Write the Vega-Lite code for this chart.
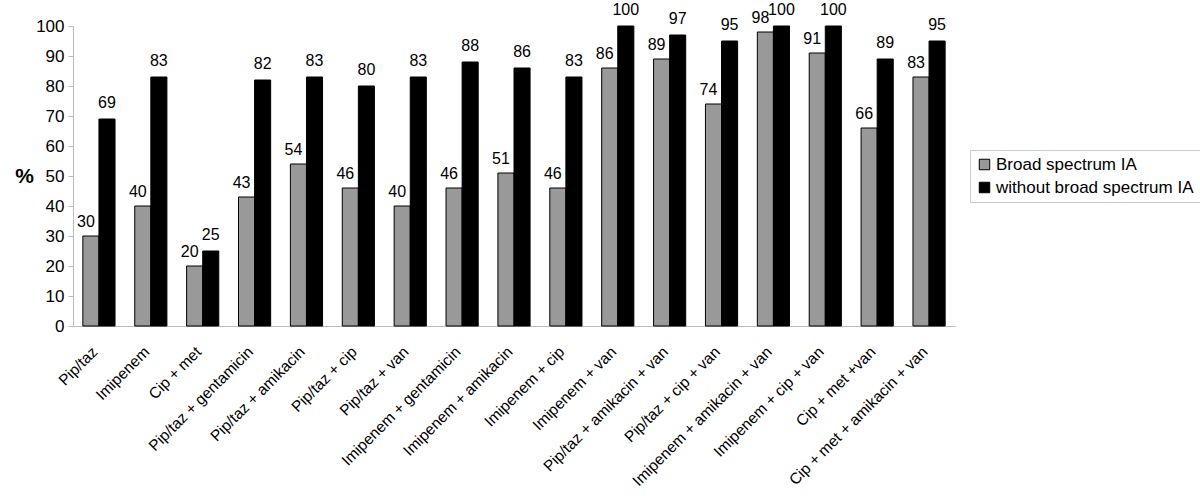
{
  "$schema": "https://vega.github.io/schema/vega-lite/v6.json",
  "autosize": "none",
  "width": 882,
  "height": 300,
  "padding": {"left": 73, "top": 26, "right": 245, "bottom": 170},
  "background": "white",
  "config": {
    "font": "Liberation Sans",
    "view": {"stroke": null}
  },
  "data": {
    "values": [
      {"cat": "Pip/taz", "series": "Broad spectrum IA", "value": 30},
      {"cat": "Pip/taz", "series": "without broad spectrum IA", "value": 69},
      {"cat": "Imipenem", "series": "Broad spectrum IA", "value": 40},
      {"cat": "Imipenem", "series": "without broad spectrum IA", "value": 83},
      {"cat": "Cip + met", "series": "Broad spectrum IA", "value": 20},
      {"cat": "Cip + met", "series": "without broad spectrum IA", "value": 25},
      {"cat": "Pip/taz + gentamicin", "series": "Broad spectrum IA", "value": 43},
      {"cat": "Pip/taz + gentamicin", "series": "without broad spectrum IA", "value": 82},
      {"cat": "Pip/taz + amikacin", "series": "Broad spectrum IA", "value": 54},
      {"cat": "Pip/taz + amikacin", "series": "without broad spectrum IA", "value": 83},
      {"cat": "Pip/taz + cip", "series": "Broad spectrum IA", "value": 46},
      {"cat": "Pip/taz + cip", "series": "without broad spectrum IA", "value": 80},
      {"cat": "Pip/taz + van", "series": "Broad spectrum IA", "value": 40},
      {"cat": "Pip/taz + van", "series": "without broad spectrum IA", "value": 83},
      {"cat": "Imipenem + gentamicin", "series": "Broad spectrum IA", "value": 46},
      {"cat": "Imipenem + gentamicin", "series": "without broad spectrum IA", "value": 88},
      {"cat": "Imipenem + amikacin", "series": "Broad spectrum IA", "value": 51},
      {"cat": "Imipenem + amikacin", "series": "without broad spectrum IA", "value": 86},
      {"cat": "Imipenem + cip", "series": "Broad spectrum IA", "value": 46},
      {"cat": "Imipenem + cip", "series": "without broad spectrum IA", "value": 83},
      {"cat": "Imipenem + van", "series": "Broad spectrum IA", "value": 86},
      {"cat": "Imipenem + van", "series": "without broad spectrum IA", "value": 100},
      {"cat": "Pip/taz + amikacin + van", "series": "Broad spectrum IA", "value": 89},
      {"cat": "Pip/taz + amikacin + van", "series": "without broad spectrum IA", "value": 97},
      {"cat": "Pip/taz + cip + van", "series": "Broad spectrum IA", "value": 74},
      {"cat": "Pip/taz + cip + van", "series": "without broad spectrum IA", "value": 95},
      {"cat": "Imipenem + amikacin + van", "series": "Broad spectrum IA", "value": 98},
      {"cat": "Imipenem + amikacin + van", "series": "without broad spectrum IA", "value": 100},
      {"cat": "Imipenem + cip + van", "series": "Broad spectrum IA", "value": 91},
      {"cat": "Imipenem + cip + van", "series": "without broad spectrum IA", "value": 100},
      {"cat": "Cip + met +van", "series": "Broad spectrum IA", "value": 66},
      {"cat": "Cip + met +van", "series": "without broad spectrum IA", "value": 89},
      {"cat": "Cip + met + amikacin + van", "series": "Broad spectrum IA", "value": 83},
      {"cat": "Cip + met + amikacin + van", "series": "without broad spectrum IA", "value": 95}
    ]
  },
  "encoding": {
    "x": {
      "field": "cat",
      "type": "nominal",
      "sort": null,
      "scale": {"paddingInner": 0.38, "paddingOuter": 0.19},
      "axis": {
        "title": null,
        "labelAngle": -45,
        "labelFontSize": 15.5,
        "labelColor": "#000",
        "labelPadding": 18,
        "labelOffset": -9,
        "ticks": false,
        "domainColor": "#bbbbbb",
        "labelLimit": 300
      }
    },
    "xOffset": {"field": "series", "type": "nominal", "scale": {"paddingInner": 0, "paddingOuter": 0}},
    "y": {
      "field": "value",
      "type": "quantitative",
      "scale": {"domain": [0, 100]},
      "axis": {
        "title": "%",
        "titleAngle": 0,
        "titleFontSize": 21,
        "titleFontWeight": "bold",
        "titleX": -49,
        "titleY": 150,
        "titleAlign": "center",
        "titleBaseline": "middle",
        "titleColor": "#000",
        "values": [0, 10, 20, 30, 40, 50, 60, 70, 80, 90, 100],
        "labelFontSize": 17,
        "labelColor": "#000",
        "labelPadding": 4,
        "tickSize": 5,
        "tickColor": "#bbbbbb",
        "domainColor": "#bbbbbb",
        "grid": false
      }
    }
  },
  "layer": [
    {
      "mark": {"type": "bar", "stroke": "#000", "strokeWidth": 1},
      "encoding": {
        "color": {
          "field": "series",
          "type": "nominal",
          "scale": {"domain": ["Broad spectrum IA", "without broad spectrum IA"], "range": ["#999999", "#000000"]},
          "legend": {
            "title": null,
            "orient": "none",
            "legendX": 897,
            "legendY": 124,
            "symbolType": "square",
            "symbolSize": 110,
            "symbolStrokeColor": "#000",
            "symbolStrokeWidth": 1,
            "labelFontSize": 17,
            "labelColor": "#000",
            "labelOffset": 3,
            "rowPadding": 5,
            "padding": 6,
            "strokeColor": "#cccccc",
            "labelLimit": 300
          }
        }
      }
    },
    {
      "transform": [{"filter": "datum.series === 'Broad spectrum IA'"}],
      "mark": {"type": "text", "baseline": "bottom", "dy": -6, "dx": -5, "fontSize": 16, "color": "#000"},
      "encoding": {"text": {"field": "value", "type": "quantitative"}}
    },
    {
      "transform": [{"filter": "datum.series === 'without broad spectrum IA'"}],
      "mark": {"type": "text", "baseline": "bottom", "dy": -8, "fontSize": 16, "color": "#000"},
      "encoding": {"text": {"field": "value", "type": "quantitative"}}
    }
  ]
}
